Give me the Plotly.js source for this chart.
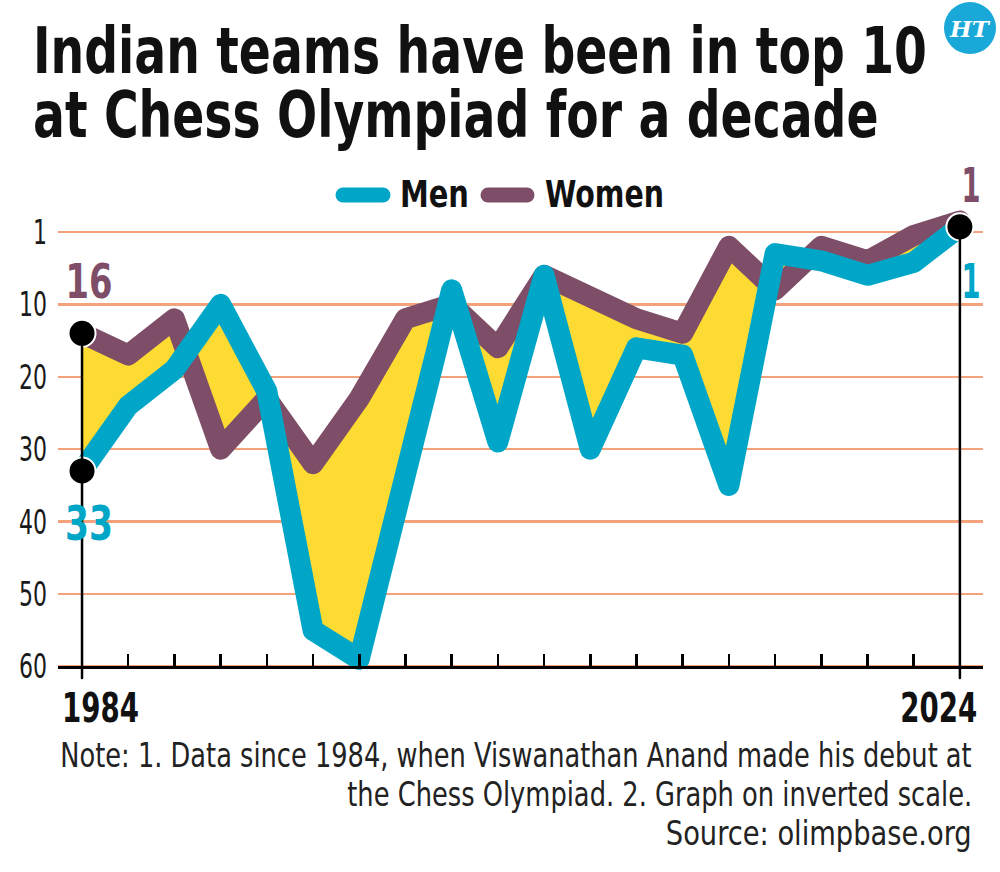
<!DOCTYPE html>
<html>
<head>
<meta charset="utf-8">
<script src="https://cdn.plot.ly/plotly-3.0.1.min.js"></script>
<style>
  html, body { margin: 0; padding: 0; background: #ffffff; }
  #chart { width: 1000px; height: 872px; }
  .scatterlayer .js-line { stroke-linejoin: round; stroke-linecap: round; }
  .shapelayer path { stroke-linecap: round; }
</style>
</head>
<body>
<div id="chart"></div>
<script>
// ---- data (y positions on the chart's inverted rank scale) ----
const years = ['1984','1986','1988','1990','1992','1994','1996','1998','2000','2002',
               '2004','2006','2008','2010','2012','2014','2016','2018','2022','2024'];
const menRank   = [33, 24, 19, 10, 22, 55, 59, 33, 8, 29, 6, 30, 16, 17, 35, 3, 4, 6, 4.2, -0.7];
const womenRank = [14, 17, 12, 30, 23, 32, 23, 12, 10, 16, 6, 9, 12, 14, 2, 8, 2, 4, 0.5, -1.5];
const rankTickVals  = [0, 10, 20, 30, 40, 50, 60];
const rankTickText  = ['1', '10', '20', '30', '40', '50', '60'];
const seriesNames   = ['Men', 'Women'];
const startLabels   = ['33', '16'];   // men, women in 1984
const endLabels     = ['1', '1'];     // men, women in 2024
const titleLines    = ['Indian teams have been in top 10', 'at Chess Olympiad for a decade'];
const noteLines     = ['Note: 1. Data since 1984, when Viswanathan Anand made his debut at',
                       'the Chess Olympiad. 2. Graph on inverted scale.',
                       'Source: olimpbase.org'];

// ---- styling ----
const MEN = '#00A6C7', WOMEN = '#7E4E68', FILL = '#FDDB33', GRID = '#F3A27C';
const FONT = "'Liberation Sans Narrow', 'DejaVu Sans Condensed', 'DejaVu Sans', sans-serif";

const W = 1000, H = 872;
const M = { l: 58, r: 17, t: 200, b: 191 };
const xRange = [-0.52, 19.5];
const yRange = [62, -4.4];
const pw = W - M.l - M.r, ph = H - M.t - M.b;
const px2x = px => (px - M.l) / pw;           // pixel -> paper x
const py2y = py => (H - M.b - py) / ph;        // pixel -> paper y
const idx = years.map((_, i) => i);
const last = years.length - 1;
const axisPos = (yRange[0] - 60) / (yRange[0] - yRange[1]);

const traces = [
  { x: idx, y: womenRank, mode: 'lines', line: { width: 0, color: WOMEN }, hoverinfo: 'skip', showlegend: false },
  { x: idx, y: menRank, mode: 'lines', fill: 'tonexty', fillcolor: FILL, line: { width: 0, color: MEN }, hoverinfo: 'skip', showlegend: false },
  { x: idx, y: womenRank, mode: 'lines', name: seriesNames[1], line: { width: 21, color: WOMEN }, showlegend: false },
  { x: idx, y: menRank, mode: 'lines', name: seriesNames[0], line: { width: 21, color: MEN }, showlegend: false },
  { x: [0, 0, last], y: [womenRank[0], menRank[0], menRank[last]], mode: 'markers', cliponaxis: false,
    marker: { size: 27, color: '#000000', line: { color: '#ffffff', width: 2 } }, hoverinfo: 'skip', showlegend: false }
];

// annotations; fitW = rendered width in px of the (first) line (text is condensed to it after drawing)
const ann = [], fitW = [];
function addText(text, px, py, xanchor, size, color, width, bold) {
  ann.push({ text: bold ? '<b>' + text + '</b>' : text, xref: 'paper', yref: 'paper',
    x: px2x(px), y: py2y(py), xanchor: xanchor, align: xanchor === 'center' ? 'center' : xanchor,
    yanchor: 'middle', showarrow: false, font: { family: FONT, size: size, color: color } });
  fitW.push(width);
}
// title (two lines in one text; line spacing tightened after drawing)
addText(titleLines.join('<br>'), 31, 84, 'left', 64, '#111', 894, true);
const TITLE_LINE1_MID = 51, TITLE_LINE_GAP = 64;
// legend
addText(seriesNames[0], 398, 194, 'left', 37, '#111', 69, true);
addText(seriesNames[1], 543, 194, 'left', 37, '#111', 119, true);
// start / end labels
addText(startLabels[1], 89, 281, 'center', 48, WOMEN, 47, true);
addText(startLabels[0], 89, 523, 'center', 48, MEN, 48, true);
addText(endLabels[1], 971, 185, 'center', 48, WOMEN, 19, true);
addText(endLabels[0], 971, 281, 'center', 48, MEN, 19, true);
// x end labels
addText(years[0], 60, 708, 'left', 40, '#111', 77, true);
addText(years[last], 979, 708, 'right', 40, '#111', 77, true);
// notes
addText(noteLines[0], 974, 755, 'right', 34, '#222', 912, false);
addText(noteLines[1], 974, 794, 'right', 34, '#222', 625, false);
addText(noteLines[2], 974, 833, 'right', 34, '#222', 306, false);
// HT logo text
ann.push({ text: '<b><i>HT</i></b>', xref: 'paper', yref: 'paper', x: px2x(970), y: py2y(28),
  xanchor: 'center', yanchor: 'middle', showarrow: false, font: { family: "'DejaVu Serif', serif", size: 23, color: '#ffffff' } });
fitW.push(null);

const shapes = [
  // vertical marker lines at 1984 and 2024
  { type: 'line', xref: 'x', yref: 'y', x0: 0, x1: 0, y0: womenRank[0], y1: 61.6, line: { color: '#000', width: 2.5 } },
  { type: 'line', xref: 'x', yref: 'y', x0: last, x1: last, y0: menRank[last], y1: 61.6, line: { color: '#000', width: 2.5 } },
  // legend samples
  { type: 'line', xref: 'paper', yref: 'paper', x0: px2x(343), x1: px2x(383), y0: py2y(195), y1: py2y(195), line: { color: MEN, width: 15 } },
  { type: 'line', xref: 'paper', yref: 'paper', x0: px2x(488), x1: px2x(527), y0: py2y(195), y1: py2y(195), line: { color: WOMEN, width: 15 } },
  // HT logo circle
  { type: 'circle', xref: 'paper', yref: 'paper', x0: px2x(944), x1: px2x(996), y0: py2y(54), y1: py2y(2),
    fillcolor: '#1AA8D8', line: { width: 0 } }
];

const layout = {
  width: W, height: H,
  margin: M,
  paper_bgcolor: '#ffffff', plot_bgcolor: '#ffffff',
  showlegend: false,
  font: { family: FONT },
  xaxis: {
    range: xRange, showgrid: false, zeroline: false,
    anchor: 'free', position: axisPos,
    showline: true, linecolor: '#000', linewidth: 3,
    tickmode: 'array', tickvals: idx, ticks: 'inside', ticklen: 12, tickwidth: 2.5, tickcolor: '#000',
    showticklabels: false, fixedrange: true
  },
  yaxis: {
    range: yRange, showgrid: true, gridcolor: GRID, gridwidth: 2.5, zeroline: false, showline: false,
    tickmode: 'array', tickvals: rankTickVals, ticktext: rankTickText, ticks: '',
    ticklabelstandoff: 10,
    tickfont: { family: FONT, size: 34, color: '#1a1a1a' }, fixedrange: true
  },
  annotations: ann,
  shapes: shapes
};

Plotly.newPlot('chart', traces, layout, { staticPlot: true, displayModeBar: false }).then(gd => {
  const svgTop = gd.querySelector('.main-svg').getBoundingClientRect().top;
  gd.querySelectorAll('.annotation').forEach(g => {
    const i = +g.getAttribute('data-index');
    const t = g.querySelector('text.annotation-text');
    const w = fitW[i];
    if (!t || !w) return;
    const lines = t.querySelectorAll('tspan.line');
    let shiftY = 0, nat;
    if (lines.length > 1) {
      // tighten line spacing of the two-line title
      lines.forEach((ln, k) => { if (k > 0) ln.setAttribute('dy', (k * TITLE_LINE_GAP) + 'px'); });
      const r1 = lines[0].getBoundingClientRect();
      shiftY = TITLE_LINE1_MID - ((r1.top + r1.bottom) / 2 - svgTop);
      nat = lines[0].getComputedTextLength();
    } else {
      nat = t.getComputedTextLength();
    }
    if (!nat) return;
    const s = w / nat;
    const x0 = parseFloat(t.getAttribute('x')) || 0;
    t.setAttribute('transform', 'translate(' + (x0 * (1 - s)) + ',' + shiftY + ') scale(' + s + ',1)');
    const r = g.querySelector('rect.bg');
    if (r && lines.length <= 1) {
      const oldW = +r.getAttribute('width'), oldX = +r.getAttribute('x') || 0;
      const newW = w + 2;
      const a = ann[i].xanchor;
      const nx = a === 'left' ? oldX : (a === 'right' ? oldX + oldW - newW : oldX + (oldW - newW) / 2);
      r.setAttribute('x', nx);
      r.setAttribute('width', newW);
    } else if (r) {
      r.setAttribute('width', w + 2);
    }
  });
  gd.querySelectorAll('.ytick text').forEach(t => {
    t.setAttribute('textLength', t.getComputedTextLength() * 0.72);
    t.setAttribute('lengthAdjust', 'spacingAndGlyphs');
  });
});
</script>
</body>
</html>
